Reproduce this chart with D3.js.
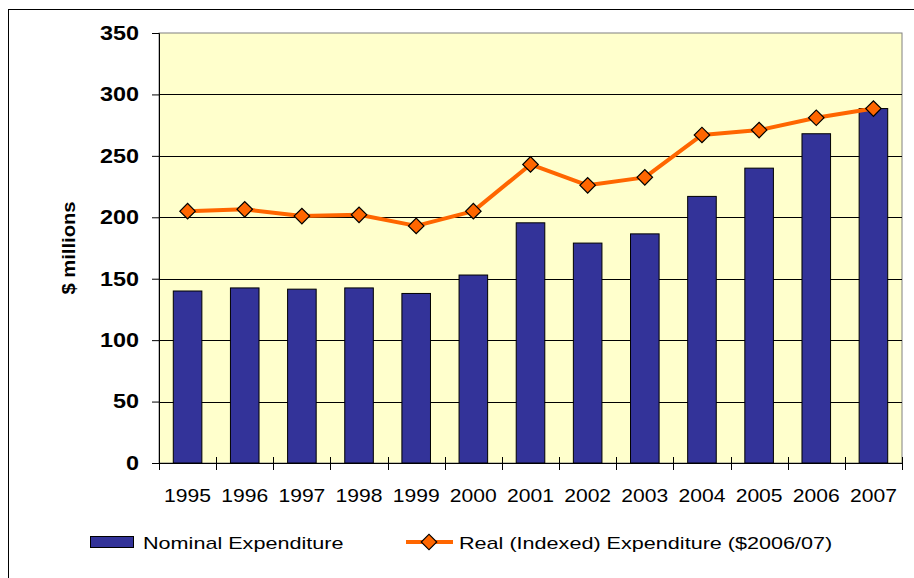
<!DOCTYPE html>
<meta charset="utf-8">
<script src="https://d3js.org/d3.v7.min.js"></script>
<style>
  body { margin: 0; background: #fff; }
  text { font-family: Arial, "Liberation Sans", sans-serif; }
</style>
<div id="chart"></div>
<script>
// values
var years = ["1995","1996","1997","1998","1999","2000","2001","2002","2003","2004","2005","2006","2007"];
var nominal = [140, 142.5, 141.5, 142.5, 138, 153, 195.5, 179, 186.5, 217, 240, 268, 288.5];
var realIdx = [205, 206.5, 201, 202, 193, 205, 243, 226, 232.5, 267, 271, 281, 288.5];
var yTicks = [0, 50, 100, 150, 200, 250, 300, 350];

var W = 914, H = 578;
var margin = {top: 33, left: 159},
    width = 902 - margin.left,
    height = 463 - margin.top;

// the source text is drawn wider than plain Arial, stretch it a bit
function stretch(sel, k) {
  sel.each(function() {
    var len = this.getComputedTextLength();
    d3.select(this).attr("textLength", len * k).attr("lengthAdjust", "spacingAndGlyphs");
  });
}

var svg = d3.select("#chart").append("svg")
    .attr("width", W)
    .attr("height", H);

// outer frame (runs off the bottom/right of the picture)
svg.append("rect")
    .attr("x", 8.5).attr("y", 9.5)
    .attr("width", 940).attr("height", 620)
    .attr("fill", "none").attr("stroke", "#000").attr("stroke-width", 1);

var g = svg.append("g")
    .attr("transform", "translate(" + margin.left + "," + margin.top + ")");

var x = d3.scaleBand().domain(years).range([0, width]).paddingInner(0.5).paddingOuter(0.25);
var y = d3.scaleLinear().domain([0, 350]).range([height, 0]);

// plot background
g.append("rect")
    .attr("width", width).attr("height", height)
    .attr("fill", "#FFFFCC").attr("stroke", "#808080");

// gridlines
g.selectAll(".grid").data(yTicks.filter(d => d > 0 && d < 350)).enter()
  .append("line")
    .attr("x1", 0).attr("x2", width)
    .attr("y1", d => Math.round(y(d)) + 0.5).attr("y2", d => Math.round(y(d)) + 0.5)
    .attr("stroke", "#000").attr("stroke-width", 1);

// bars
g.selectAll(".bar").data(nominal).enter()
  .append("rect")
    .attr("x", (d, i) => x(years[i]))
    .attr("y", d => y(d))
    .attr("width", x.bandwidth())
    .attr("height", d => height - y(d))
    .attr("fill", "#333399")
    .attr("stroke", "#000").attr("stroke-width", 1);

// y axis
var yAxis = g.append("g")
    .call(d3.axisLeft(y).tickValues(yTicks).tickSize(7).tickPadding(13));
yAxis.select(".domain").attr("stroke", "#000");
yAxis.selectAll("text")
    .attr("font-size", 20).attr("font-weight", "bold")
    .attr("font-family", "Arial, 'Liberation Sans', sans-serif").attr("fill", "#000")
    .call(stretch, 1.17);

// x axis with crossing ticks at category boundaries
var step = width / years.length;
var xAxis = g.append("g").attr("transform", "translate(0," + height + ")");
xAxis.append("line").attr("x1", 0).attr("x2", width).attr("y1", 0.5).attr("y2", 0.5).attr("stroke", "#000");
xAxis.selectAll(".tk").data(d3.range(years.length + 1)).enter()
  .append("line")
    .attr("x1", i => Math.round(i * step) + 0.5).attr("x2", i => Math.round(i * step) + 0.5)
    .attr("y1", -6).attr("y2", 7)
    .attr("stroke", "#000");
xAxis.selectAll(".lbl").data(years).enter()
  .append("text")
    .attr("x", d => x(d) + x.bandwidth() / 2)
    .attr("y", 38.5)
    .attr("text-anchor", "middle")
    .attr("font-size", 18.5)
    .text(d => d)
    .call(stretch, 1.14);

// real expenditure line
var line = d3.line()
    .x((d, i) => x(years[i]) + x.bandwidth() / 2)
    .y(d => y(d));
g.append("path").datum(realIdx)
    .attr("d", line)
    .attr("fill", "none")
    .attr("stroke", "#FF6600").attr("stroke-width", 4)
    .attr("stroke-linejoin", "round");

var diamond = d3.symbol().type(d3.symbolSquare).size(120);
g.selectAll(".pt").data(realIdx).enter()
  .append("path")
    .attr("d", diamond)
    .attr("transform", (d, i) => "translate(" + (x(years[i]) + x.bandwidth() / 2) + "," + y(d) + ") rotate(45)")
    .attr("fill", "#FF6600")
    .attr("stroke", "#000").attr("stroke-width", 1.2);

// y title
svg.append("text")
    .attr("transform", "translate(75,248) rotate(-90)")
    .attr("text-anchor", "middle")
    .attr("font-size", 18).attr("font-weight", "bold")
    .text("$ millions")
    .call(stretch, 1.12);

// legend
var leg = svg.append("g");
leg.append("rect")
    .attr("x", 90.5).attr("y", 536.5).attr("width", 43).attr("height", 11)
    .attr("fill", "#333399").attr("stroke", "#000");
leg.append("text")
    .attr("x", 143).attr("y", 548.5)
    .attr("font-size", 17)
    .text("Nominal Expenditure")
    .call(stretch, 1.27);
leg.append("line")
    .attr("x1", 406).attr("x2", 453).attr("y1", 542).attr("y2", 542)
    .attr("stroke", "#FF6600").attr("stroke-width", 4);
leg.append("path")
    .attr("d", diamond)
    .attr("transform", "translate(429,542) rotate(45)")
    .attr("fill", "#FF6600").attr("stroke", "#000").attr("stroke-width", 1.2);
leg.append("text")
    .attr("x", 459).attr("y", 548.5)
    .attr("font-size", 17)
    .text("Real (Indexed) Expenditure ($2006/07)")
    .call(stretch, 1.27);
</script>
